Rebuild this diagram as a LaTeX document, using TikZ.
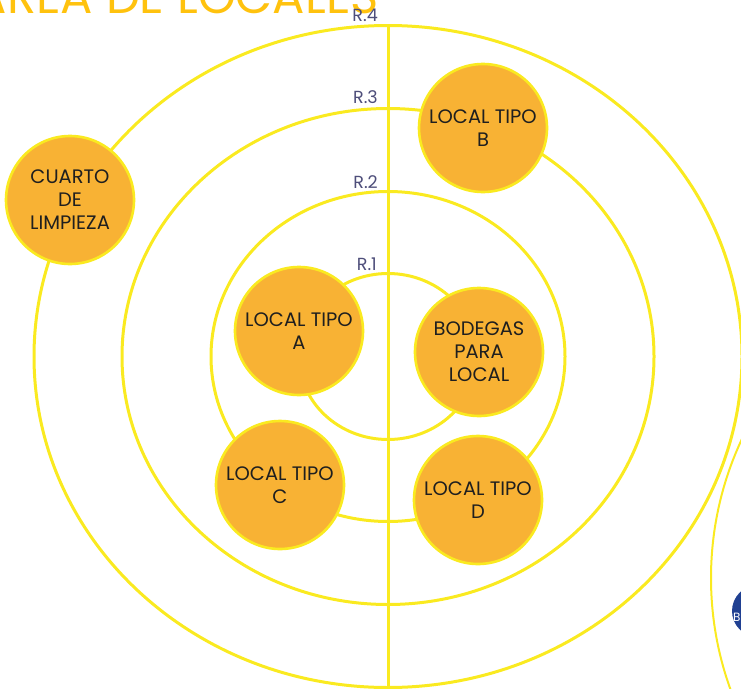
\documentclass[tikz,border=0pt]{standalone}
\usepackage{fontspec}
\setmainfont{Poppins}
\usetikzlibrary{positioning}
\definecolor{ringyellow}{RGB}{250,234,32}
\definecolor{zoneorange}{RGB}{248,178,52}
\definecolor{ringlabel}{RGB}{78,78,122}
\definecolor{titleorange}{RGB}{255,194,14}
\definecolor{otherblue}{RGB}{32,64,146}
\tikzset{
  % --- rings ------------------------------------------------------------
  ring/.style    ={draw=ringyellow, line width=3pt},
  thinring/.style={draw=ringyellow, line width=2pt},
  rlab/.style    ={anchor=east, font=\fontsize{17.5}{17.5}\selectfont, text=ringlabel, inner sep=0},
  % --- zones ------------------------------------------------------------
  zone/.style    ={circle, draw=ringyellow, line width=2.6pt, fill=zoneorange,
                   minimum size=128pt, inner sep=0, align=center,
                   font=\fontsize{19.5}{23}\selectfont, text=black!88},
  ttl/.style     ={anchor=base east, font=\fontsize{48}{48}\selectfont, text=titleorange, inner sep=0},
}

\begin{document}
\begin{tikzpicture}[x=1pt, y=-1pt]
  \useasboundingbox (0,0) rectangle (741,688);
  \clip (0,0) rectangle (741,688);

  % ============================ title (cut at the top) ============================
  \node[ttl] (title) at (379,13) {AREA DE LOCALES};

  % ============================ rings R.1 -- R.4 ============================
  \coordinate (ctr) at (388,356.5);
  \draw[ring] (ctr) ellipse [x radius=89,  y radius=83];
  \draw[ring] (ctr) ellipse [x radius=177, y radius=165];
  \draw[ring] (ctr) ellipse [x radius=266, y radius=248];
  \draw[ring] (ctr) ellipse [x radius=354, y radius=331];

  \coordinate (axtop) at (388,25);
  \coordinate (axbot) at (388,688);
  \draw[ring] (axtop) -- (axbot);

  \node[rlab] (r4) at (378,15.5) {R.4};
  \node[rlab] (r3) at (378,97.5) {R.3};
  \node[rlab] (r2) at (378,182)  {R.2};
  \node[rlab] (r1) at (377,264)  {R.1};

  % ============================ zones ============================
  \node[zone] (limp) at (70,200)   {CUARTO\\DE\\LIMPIEZA};
  \node[zone] (tipb) at (483,128)  {LOCAL TIPO\\B};
  \node[zone] (tipa) at (299,331)  {LOCAL TIPO\\A};
  \node[zone] (bod)  at (479,352)  {BODEGAS\\PARA\\LOCAL};
  \node[zone] (tipc) at (280,485)  {LOCAL TIPO\\C};
  \node[zone] (tipd) at (478,500)  {LOCAL TIPO\\D};

  % ============================ next diagram (cut at the right) ============================
  \draw[thinring] (1038,578) circle [radius=327];
  \node[circle, fill=otherblue, minimum size=52pt, inner sep=0] (nxt) at (758,611) {};
  \node[text=white, font=\fontsize{12}{12}\selectfont, anchor=west, inner sep=0] (nxtb) at (733,617) {B};

\end{tikzpicture}
\end{document}
